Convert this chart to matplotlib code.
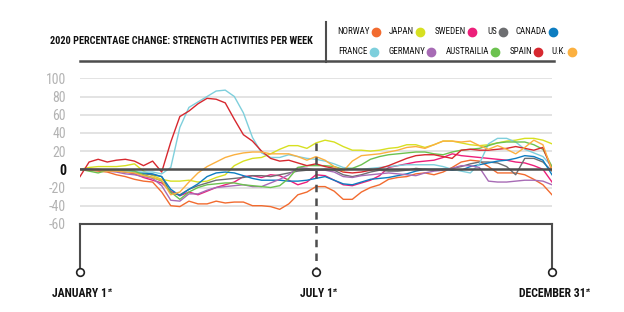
import numpy as np
import matplotlib
matplotlib.use("Agg")
import matplotlib.pyplot as plt
from matplotlib import font_manager
from matplotlib.lines import Line2D

# weekly % change, week 0 = Jan 1, week 52 = Dec 31
weeks = np.arange(53)

norway = [0, -1, -2, -3, -6, -8, -11, -13, -14, -25,
          -40, -41, -35, -38, -38, -35, -37, -36, -36, -40,
          -40, -41, -44, -38, -28, -25, -19, -19, -24, -33,
          -33, -25, -20, -17, -11, -9, -8, -5, -4, -6,
          -3, 2, 8, 10, 9, 3, -4, -4, -4, -6,
          -11, -17, -28]
japan = [0, 2, 3, 3, 3, 4, 6, -2, -7, -11,
         -13, -13, -12, -14, -13, -9, -6, 4, 9, 12,
         13, 17, 22, 26, 26, 23, 29, 32, 30, 25,
         21, 21, 20, 21, 23, 24, 27, 27, 24, 27,
         31, 31, 29, 27, 26, 27, 29, 31, 32, 34,
         34, 32, 28]
sweden = [0, 0, 0, -1, -1, -3, -5, -9, -12, -15,
          -24, -29, -25, -28, -24, -20, -17, -14, -8, -7,
          -9, -6, -7, -12, -17, -14, -6, -7, -12, -17,
          -18, -15, -12, -7, 2, 4, 6, 8, 9, 10,
          13, 17, 15, 14, 13, 12, 11, 10, 8, 7,
          4, 0, -14]
us = [0, 0, -1, -1, -2, -3, -4, -5, -6, -8,
      -26, -28, -22, -18, -15, -12, -11, -10, -9, -7,
      -7, -8, -6, -4, -2, -1, -1, 0, -1, -6,
      -8, -6, -3, -1, -2, -2, -1, 1, 0, -1,
      0, 1, 3, 6, 8, 8, 7, 3, -6, 12,
      12, 8, -2]
canada = [0, 0, -1, -1, -2, -2, -3, -4, -5, -8,
          -22, -29, -22, -16, -8, -4, -3, -4, -7, -10,
          -12, -12, -12, -13, -13, -12, -10, -8, -12, -16,
          -17, -14, -11, -10, -9, -7, -5, -2, 0, 0,
          0, -1, -1, 3, 5, 7, 9, 10, 12, 15,
          14, 10, -6]
france = [0, 0, -1, -1, -2, -2, -3, -3, -3, -5,
          2, 46, 68, 74, 80, 86, 87, 80, 62, 35,
          18, 13, 13, 16, 14, 12, 11, 9, 6, 2,
          1, 0, 1, 2, 3, 4, 5, 5, 5, 5,
          3, 0, -2, -4, 6, 28, 34, 34, 30, 22,
          18, 14, 3]
germany = [0, -1, -1, -2, -3, -5, -6, -8, -10, -18,
           -34, -35, -27, -27, -23, -20, -19, -18, -17, -19,
           -19, -15, -11, -6, 2, 1, -1, -1, -3, -8,
           -9, -7, -6, -5, -4, -5, -6, -7, -4, -2,
           -1, 1, 4, 4, 2, -13, -14, -14, -13, -12,
           -12, -13, -17]
australia = [0, -2, -4, -1, -1, -1, -2, -6, -9, -13,
             -25, -33, -25, -20, -17, -16, -15, -15, -17, -18,
             -19, -20, -18, -10, 2, 4, 4, 4, 3, 0,
             1, 5, 11, 14, 16, 17, 18, 19, 19, 17,
             16, 19, 21, 22, 23, 26, 29, 30, 30, 30,
             27, 22, 3]
spain = [-8, 8, 11, 8, 10, 11, 9, 4, 9, -3,
         30, 58, 64, 72, 78, 77, 73, 55, 38, 31,
         20, 12, 9, 10, 7, 4, 6, 3, 1, -3,
         -4, -3, -1, 1, 4, 8, 12, 15, 16, 16,
         14, 12, 21, 22, 21, 21, 22, 23, 25, 23,
         21, 24, -1]
uk = [0, -1, -1, -2, -2, -3, -4, -7, -9, -12,
      -28, -25, -14, -4, 3, 8, 13, 16, 18, 19,
      19, 17, 17, 17, 14, 10, 14, 10, 3, -2,
      9, 15, 16, 17, 19, 21, 24, 25, 23, 27,
      31, 31, 30, 31, 26, 22, 26, 22, 17, 24,
      32, 27, -1]

names = ["NORWAY", "JAPAN", "SWEDEN", "US", "CANADA",
         "FRANCE", "GERMANY", "AUSTRAILIA", "SPAIN", "U.K."]
series = [norway, japan, sweden, us, canada,
          france, germany, australia, spain, uk]
colors = ["#f26b2f", "#d7e021", "#ec1f7a", "#6d6e71", "#0d7dc1",
          "#7ecfdc", "#a76bb5", "#6cc24f", "#d7282f", "#fbb040"]

yticks = [100, 80, 60, 40, 20, 0, -20, -40, -60]
date_labels = ["JANUARY 1", "JULY 1", "DECEMBER 31"]
date_weeks = [0, 26, 52]

# legend dot x positions (pixels), text sits right-aligned just left of the dot
legend_dots = [376, 420, 472, 503, 553,
               374, 431, 495, 538, 572]

available = {f.name for f in font_manager.fontManager.ttflist}
FONT = next((f for f in ["Roboto Condensed", "Liberation Sans Narrow",
                         "Open Sans Condensed", "DejaVu Sans"] if f in available),
            "DejaVu Sans")
DARK = "#4d4d4d"

W, H = 624, 312
fig = plt.figure(figsize=(W / 100, H / 100), dpi=100)
renderer = fig.canvas.get_renderer()


def fx(px):
    return px / W


def fy(py):
    return 1 - py / H


def fit(t, width_px):
    w = t.get_window_extent(renderer).width
    if w > width_px:
        t.set_fontsize(t.get_fontsize() * width_px / w)
    return t.get_fontsize()


# axes: x 80..552 px, y value 100 at 78.3 px, -60 at 223.9 px
ax = fig.add_axes([fx(80), fy(223.9), fx(552) - fx(80), fy(78.3) - fy(223.9)])
ax.set_xlim(0, 52)
ax.set_ylim(-60, 100)
for s in ax.spines.values():
    s.set_visible(False)
ax.set_xticks([])
ax.set_yticks(yticks)
ax.set_yticklabels([str(v) for v in yticks])
ax.tick_params(axis="y", length=0, pad=10, labelsize=10)
for lab, v in zip(ax.get_yticklabels(), yticks):
    lab.set_fontfamily(FONT)
    if v == 0:
        lab.set_color("#111111")
        lab.set_fontweight("bold")
    else:
        lab.set_color("#b3b3b3")

for v in yticks:
    if v not in (0, -60):
        ax.axhline(v, color="#e0e0e0", lw=1.3, zorder=1)

for vals, c in zip(series, colors):
    ax.plot(weeks, vals, color=c, lw=1.0, zorder=2)

ax.axhline(0, color=DARK, lw=1.8, zorder=3)

# frame pieces below the plot
kw = dict(color=DARK, lw=1.5, clip_on=False, zorder=3)
ax.plot([0, 52], [-60, -60], **kw)
ax.plot([0, 0], [-60, -113], **kw)
ax.plot([52, 52], [-60, -113], **kw)
ax.plot([26, 26], [29, -113], color=DARK, lw=1.8, ls=(0, (3, 2.5)),
        clip_on=False, zorder=3)
ax.plot(date_weeks, [-113] * 3, "o", ms=5.5, mfc="white", mec="#222222",
        mew=1.2, clip_on=False, zorder=4)
ax.plot([0, 52.2], [119, 119], color=DARK, lw=1.8, clip_on=False)

# date labels with superscript
for lab, wk in zip(date_labels, date_weeks):
    t = ax.text(wk, -137, lab, ha="center", va="center", fontsize=8.5,
                fontfamily=FONT, fontweight="bold", color="#111111",
                clip_on=False)
    bb = t.get_window_extent(renderer)
    fig.text(fx(bb.x1 + 0.5), (bb.y1 - 1) / H, "st", ha="left", va="top",
             fontsize=4.5, fontfamily=FONT, fontweight="bold", color="#111111")

# title
title = fig.text(fx(50), fy(41), "2020 PERCENTAGE CHANGE: STRENGTH ACTIVITIES PER WEEK",
                 ha="left", va="center", fontsize=11, fontfamily=FONT,
                 fontweight="bold", color="#111111")
fit(title, 262)

fig.add_artist(Line2D([fx(326), fx(326)], [fy(22), fy(62)], color=DARK, lw=1.5))

# legend
for i, (name, dx, c) in enumerate(zip(names, legend_dots, colors)):
    y = fy(32) if i < 5 else fy(52)
    fig.text(fx(dx - 6), y, name, ha="right", va="center", fontsize=6.5,
             fontfamily=FONT, color="#111111")
    fig.add_artist(Line2D([fx(dx)], [y], marker="o", ms=6, color=c, lw=0))

fig.savefig("out.png", dpi=100)
